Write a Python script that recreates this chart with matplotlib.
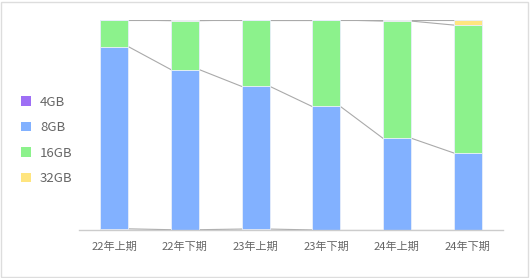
import numpy as np
import matplotlib.pyplot as plt
from matplotlib.patches import Patch, Rectangle

plt.rcParams['font.family'] = ['Noto Sans CJK SC', 'DejaVu Sans']

# data (share of each memory size, %)
periods = ['22年上期', '22年下期', '23年上期', '23年下期', '24年上期', '24年下期']
sizes = ['4GB', '8GB', '16GB', '32GB']
share_4gb = [0.5, 0.1, 0.4, 0.0, 0.0, 0.0]
share_8gb = [86.8, 76.3, 68.0, 58.8, 43.7, 36.7]
share_16gb = [12.7, 23.3, 31.6, 41.2, 55.8, 60.9]
share_32gb = [0.0, 0.3, 0.0, 0.0, 0.5, 2.4]
colors = ['#9e6ff5', '#82b1ff', '#8cf28c', '#ffe57f']

series = [share_4gb, share_8gb, share_16gb, share_32gb]

fig = plt.figure(figsize=(5.3, 2.78), dpi=100)
ax = fig.add_axes([0.149, 0.173, 0.8, 0.755])

x = np.arange(len(periods))
width = 0.4
bottom = np.zeros(len(periods))
for vals, col, name in zip(series, colors, sizes):
    vals = np.array(vals)
    ax.bar(x, vals, width, bottom=bottom, color=col, edgecolor='#e8eefa',
           linewidth=0.6, label=name, zorder=2)
    top = bottom + vals
    # connector lines between neighbouring bars
    for i in range(len(periods) - 1):
        ax.plot([x[i] + width / 2, x[i + 1] - width / 2], [top[i], top[i + 1]],
                color='#aaaaaa', lw=0.8, zorder=1)
    bottom = top

ax.set_xlim(-0.5, len(periods) - 0.5)
ax.set_ylim(0, 100)
ax.set_xticks(x)
ax.set_xticklabels(periods, fontsize=8, color='#666666')
ax.tick_params(axis='x', length=0, pad=8)
ax.set_yticks([])
for s in ['top', 'right', 'left']:
    ax.spines[s].set_visible(False)
ax.spines['bottom'].set_color('#cccccc')
ax.spines['bottom'].set_linewidth(1)

handles = [Patch(facecolor=c, edgecolor='none') for c in colors]
fig.legend(handles, sizes, loc='center left', bbox_to_anchor=(0.018, 0.495),
           frameon=False, fontsize=9.5, labelcolor='#666666',
           handlelength=0.75, handleheight=0.75, handletextpad=0.65,
           labelspacing=0.95)

# light border round the chart
fig.patches.append(Rectangle((0.002, 0.004), 0.995, 0.99, transform=fig.transFigure,
                             fill=False, edgecolor='#dddddd', lw=1))

fig.savefig('out.png', dpi=100)
